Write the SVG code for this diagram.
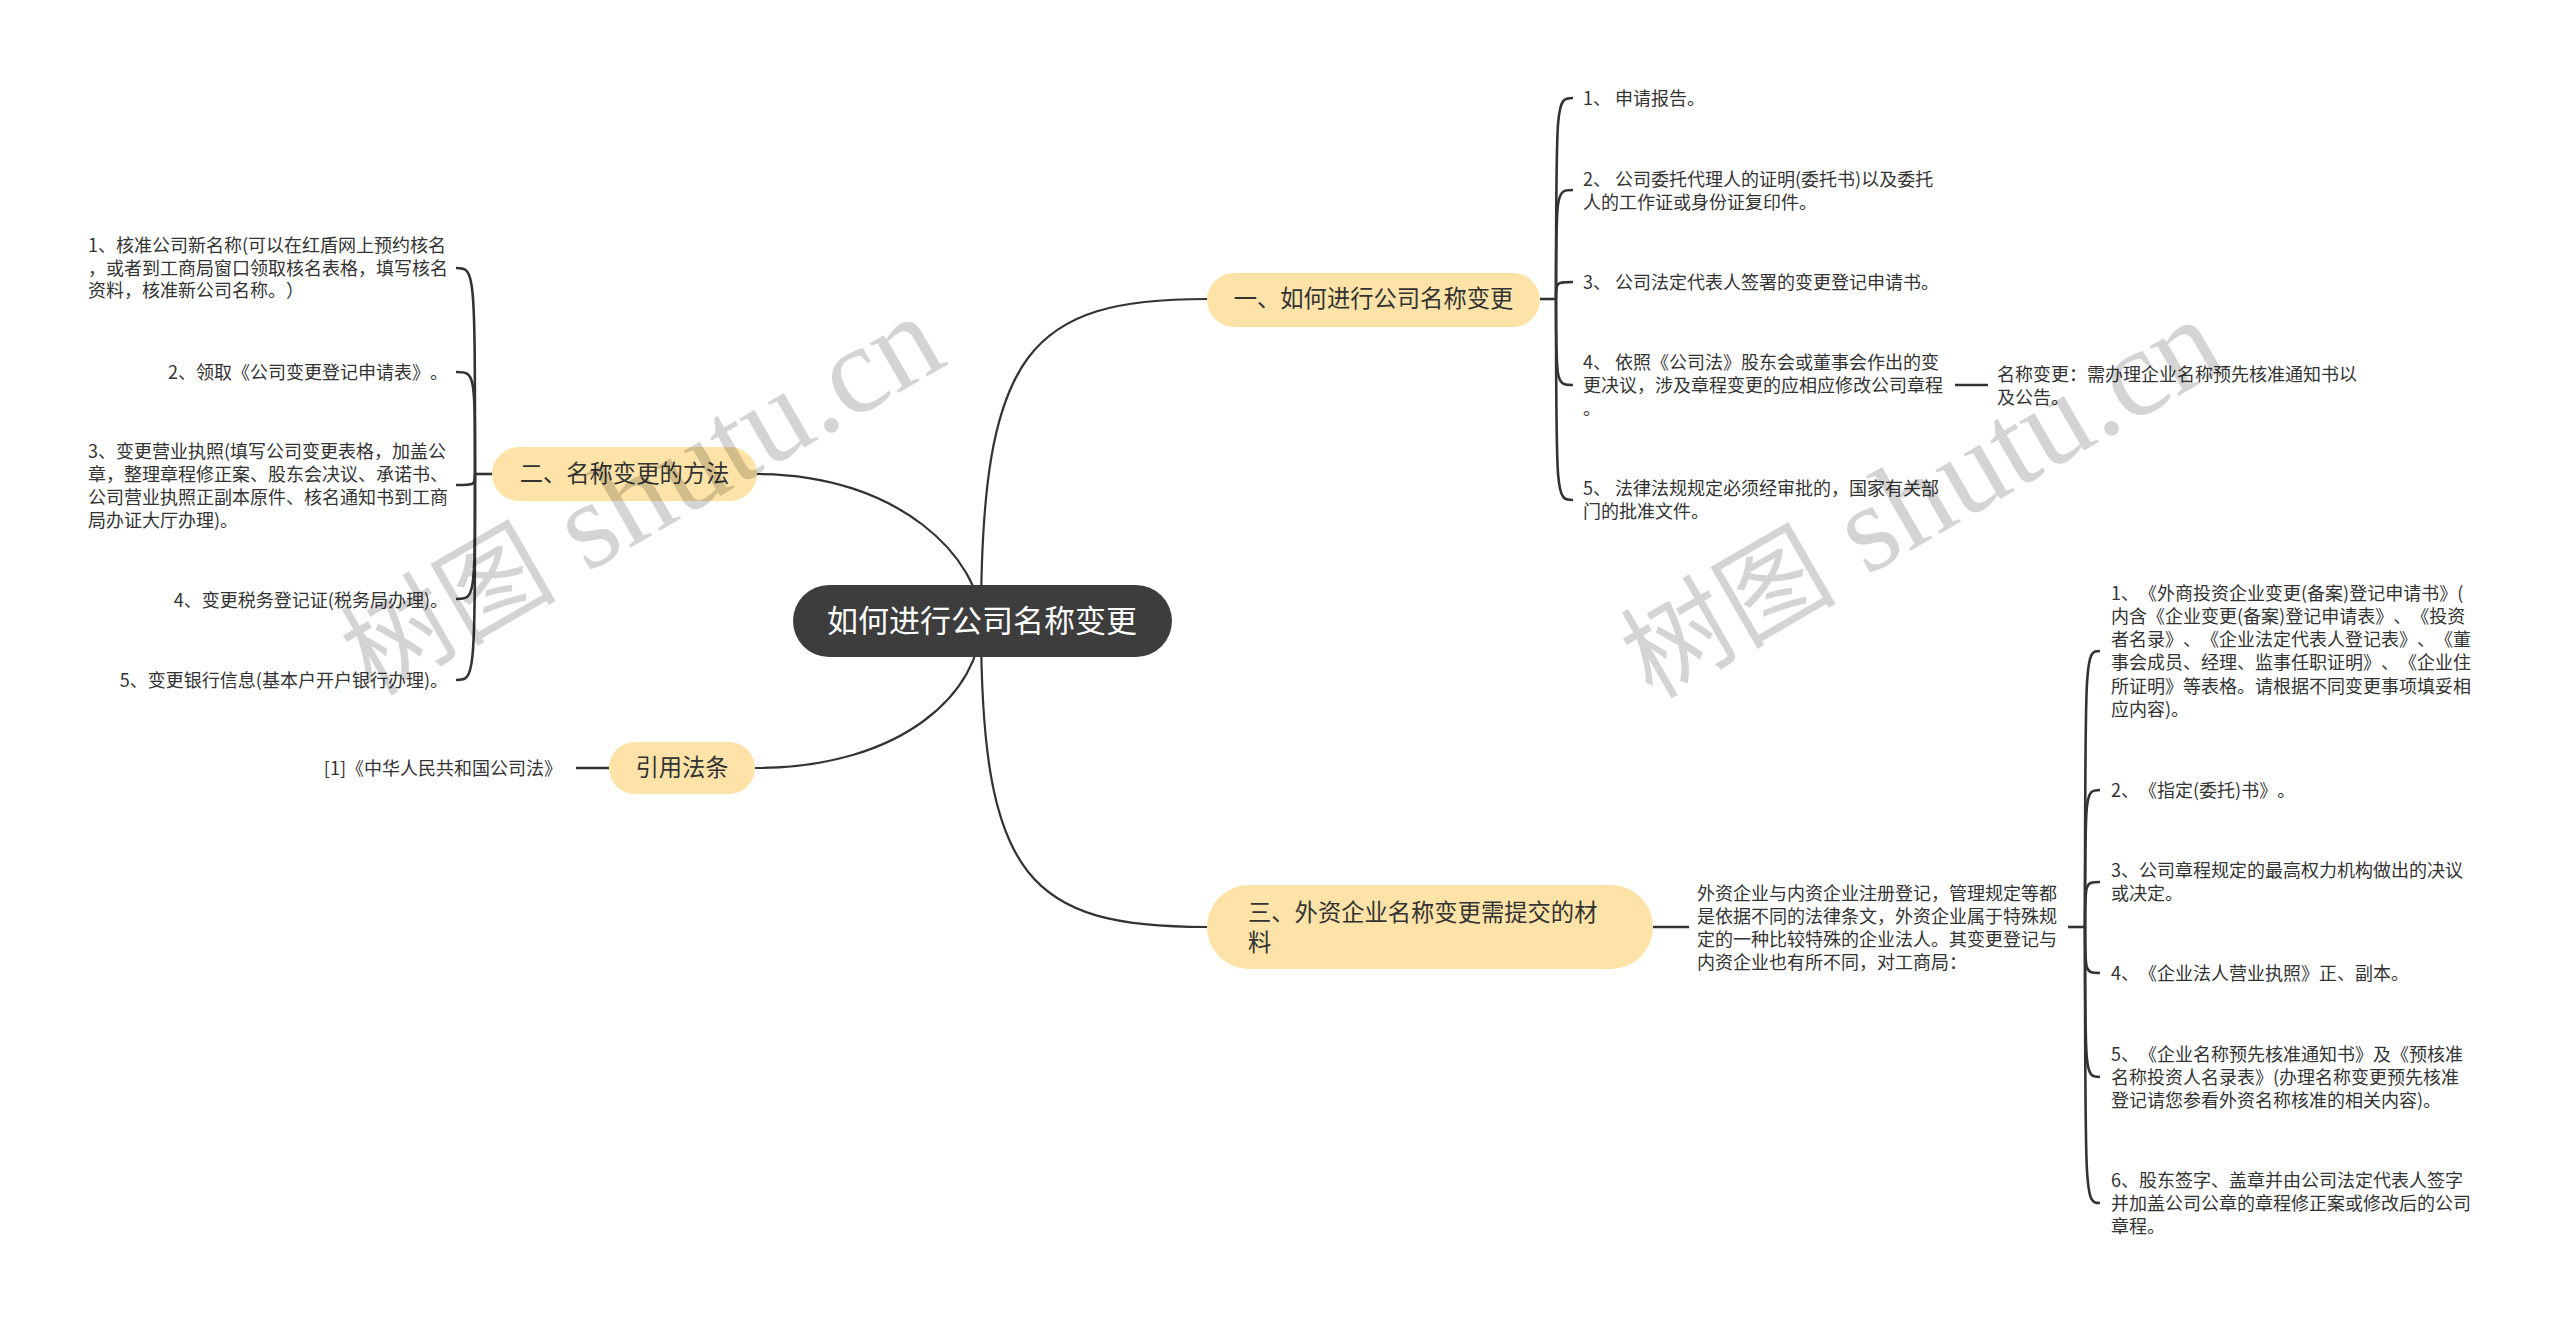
<svg xmlns="http://www.w3.org/2000/svg" width="2560" height="1325" viewBox="0 0 2560 1325">
<style>
text{font-family:"Noto Sans CJK SC","Noto Sans",sans-serif;fill:#333;text-spacing-trim:space-all}
.t{font-size:18px}
.tb{font-size:23.3px}
.tc{font-size:31px;fill:#fff}
.end{text-anchor:end}
.mid{text-anchor:middle}
.pill{fill:#fde3a7}
.conn{fill:none;stroke:#333;stroke-width:2.2}
.br{fill:none;stroke:#333;stroke-width:2.6}
.wm{fill:#000;fill-opacity:0.17}
.wc{font-family:"Noto Sans CJK SC",sans-serif;font-size:108px}
.wl{font-family:"Liberation Serif",serif;font-size:125px}
</style>
<rect width="2560" height="1325" fill="#fff"/>
<g id="connectors">
<path class="conn" d="M981 622 C981 350 1030 299 1207 299"/>
<path class="conn" d="M981 622 C981 560 900 474 757 474"/>
<path class="conn" d="M981 622 C981 690 905 768 755 768"/>
<path class="conn" d="M981 622 C981 880 1030 927 1207 927"/>
<path class="br" d="M1540 299 H1556"/>
<path class="br" d="M1556 299 C1556 98 1556 98 1573 98"/>
<path class="br" d="M1556 299 C1556 190 1556 190 1573 190"/>
<path class="br" d="M1556 299 C1556 282 1556 282 1573 282"/>
<path class="br" d="M1556 299 C1556 385 1556 385 1573 385"/>
<path class="br" d="M1556 299 C1556 500 1556 500 1573 500"/>
<path class="br" d="M1955 385 H1988"/>
<path class="br" d="M493 474 H475"/>
<path class="br" d="M475 474 C475 268 475 268 456 268"/>
<path class="br" d="M475 474 C475 372 475 372 456 372"/>
<path class="br" d="M475 474 C475 485 475 485 456 485"/>
<path class="br" d="M475 474 C475 599 475 599 456 599"/>
<path class="br" d="M475 474 C475 680 475 680 456 680"/>
<path class="br" d="M609 768 H576"/>
<path class="br" d="M1653 927 H1689"/>
<path class="br" d="M2068 927 H2085"/>
<path class="br" d="M2085 927 C2085 651 2085 651 2100 651"/>
<path class="br" d="M2085 927 C2085 790 2085 790 2100 790"/>
<path class="br" d="M2085 927 C2085 882 2085 882 2100 882"/>
<path class="br" d="M2085 927 C2085 973 2085 973 2100 973"/>
<path class="br" d="M2085 927 C2085 1077 2085 1077 2100 1077"/>
<path class="br" d="M2085 927 C2085 1203 2085 1203 2100 1203"/>
</g>
<g id="root">
<rect x="793" y="585" width="379" height="72" rx="36" fill="#3d3d3d"/>
<text class="tc mid" x="982" y="632">如何进行公司名称变更</text>
</g>
<g id="b1">
<rect class="pill" x="1207" y="273" width="333" height="54" rx="27"/>
<text class="tb mid" x="1373.5" y="307.4">一、如何进行公司名称变更</text>
</g>
<g id="b1-1"><text class="t" x="1583" y="104.5">1、 申请报告。</text></g>
<g id="b1-2"><text class="t" x="1583" y="185.5">2、 公司委托代理人的证明(委托书)以及委托<tspan x="1583" dy="23">人的工作证或身份证复印件。</tspan></text></g>
<g id="b1-3"><text class="t" x="1583" y="288.5">3、 公司法定代表人签署的变更登记申请书。</text></g>
<g id="b1-4"><text class="t" x="1583" y="368.5">4、 依照《公司法》股东会或董事会作出的变<tspan x="1583" dy="23">更决议，涉及章程变更的应相应修改公司章程</tspan><tspan x="1583" dy="23">。</tspan></text></g>
<g id="b1-4-1"><text class="t" x="1997" y="380.5">名称变更：需办理企业名称预先核准通知书以<tspan x="1997" dy="23">及公告。</tspan></text></g>
<g id="b1-5"><text class="t" x="1583" y="494.5">5、 法律法规规定必须经审批的，国家有关部<tspan x="1583" dy="23">门的批准文件。</tspan></text></g>
<g id="b2">
<rect class="pill" x="492" y="447" width="265" height="54" rx="27"/>
<text class="tb mid" x="624.5" y="482.4">二、名称变更的方法</text>
</g>
<g id="b2-1"><text class="t" x="88" y="252">1、核准公司新名称(可以在红盾网上预约核名<tspan x="88" dy="22.5">，或者到工商局窗口领取核名表格，填写核名</tspan><tspan x="88" dy="22.5">资料，核准新公司名称。）</tspan></text></g>
<g id="b2-2"><text class="t end" x="448" y="378.5">2、领取《公司变更登记申请表》。</text></g>
<g id="b2-3"><text class="t" x="88" y="457.5">3、变更营业执照(填写公司变更表格，加盖公<tspan x="88" dy="23">章，整理章程修正案、股东会决议、承诺书、</tspan><tspan x="88" dy="23">公司营业执照正副本原件、核名通知书到工商</tspan><tspan x="88" dy="23">局办证大厅办理)。</tspan></text></g>
<g id="b2-4"><text class="t end" x="448" y="606.5">4、变更税务登记证(税务局办理)。</text></g>
<g id="b2-5"><text class="t end" x="448" y="686.5">5、变更银行信息(基本户开户银行办理)。</text></g>
<g id="b3">
<rect class="pill" x="609" y="742" width="146" height="52" rx="26"/>
<text class="tb mid" x="682" y="776.4">引用法条</text>
</g>
<g id="b3-1"><text class="t end" x="562" y="774.5">[1]《中华人民共和国公司法》</text></g>
<g id="b4">
<rect class="pill" x="1207" y="885" width="446" height="84" rx="42"/>
<text class="tb" x="1248" y="921.4">三、外资企业名称变更需提交的材<tspan x="1248" dy="30">料</tspan></text>
</g>
<g id="b4-1"><text class="t" x="1697" y="899.5">外资企业与内资企业注册登记，管理规定等都<tspan x="1697" dy="23.3">是依据不同的法律条文，外资企业属于特殊规</tspan><tspan x="1697" dy="23.3">定的一种比较特殊的企业法人。其变更登记与</tspan><tspan x="1697" dy="23.3">内资企业也有所不同，对工商局：</tspan></text></g>
<g id="b4-1-1"><text class="t" x="2111" y="599.5">1、《外商投资企业变更(备案)登记申请书》(<tspan x="2111" dy="23.3">内含《企业变更(备案)登记申请表》、《投资</tspan><tspan x="2111" dy="23.3">者名录》、《企业法定代表人登记表》、《董</tspan><tspan x="2111" dy="23.3">事会成员、经理、监事任职证明》、《企业住</tspan><tspan x="2111" dy="23.3">所证明》等表格。请根据不同变更事项填妥相</tspan><tspan x="2111" dy="23.3">应内容)。</tspan></text></g>
<g id="b4-1-2"><text class="t" x="2111" y="796.5">2、《指定(委托)书》。</text></g>
<g id="b4-1-3"><text class="t" x="2111" y="877">3、公司章程规定的最高权力机构做出的决议<tspan x="2111" dy="23.3">或决定。</tspan></text></g>
<g id="b4-1-4"><text class="t" x="2111" y="979.5">4、《企业法人营业执照》正、副本。</text></g>
<g id="b4-1-5"><text class="t" x="2111" y="1060.5">5、《企业名称预先核准通知书》及《预核准<tspan x="2111" dy="23.3">名称投资人名录表》(办理名称变更预先核准</tspan><tspan x="2111" dy="23.3">登记请您参看外资名称核准的相关内容)。</tspan></text></g>
<g id="b4-1-6"><text class="t" x="2111" y="1186.5">6、股东签字、盖章并由公司法定代表人签字<tspan x="2111" dy="23.3">并加盖公司公章的章程修正案或修改后的公司</tspan><tspan x="2111" dy="23.3">章程。</tspan></text></g>
<g id="watermarks">
<text class="wm" transform="translate(372,697) rotate(-30)"><tspan class="wc">树图</tspan><tspan class="wl"> shutu.cn</tspan></text>
<text class="wm" transform="translate(1652,700) rotate(-30)"><tspan class="wc">树图</tspan><tspan class="wl"> shutu.cn</tspan></text>
</g>
</svg>
